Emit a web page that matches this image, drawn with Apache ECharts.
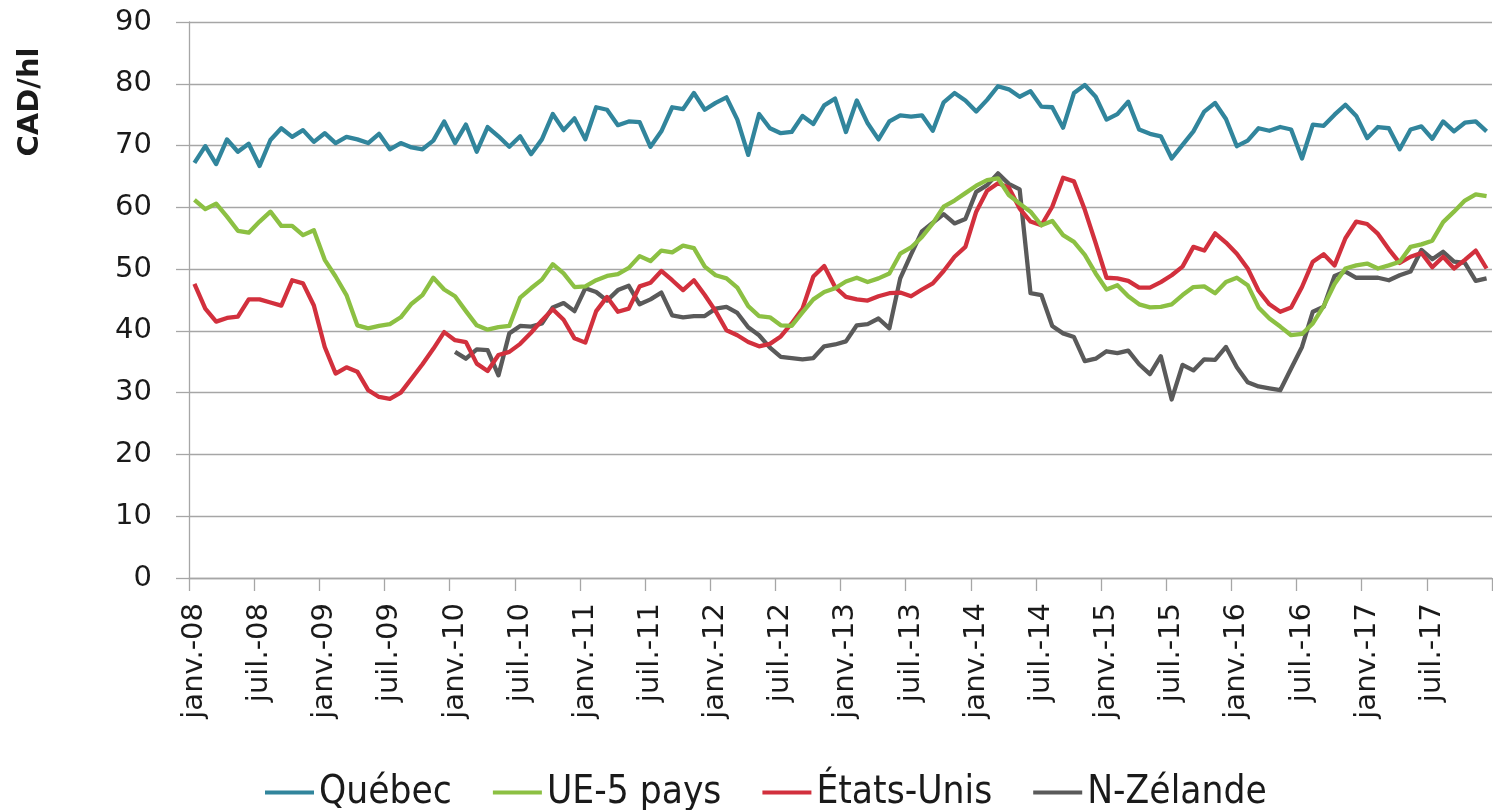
<!DOCTYPE html>
<html>
<head>
<meta charset="utf-8">
<script src="https://cdn.jsdelivr.net/npm/echarts@6/dist/echarts.min.js"></script>
<style>
  html, body { margin: 0; padding: 0; background: #ffffff; }
  #chart { width: 1493px; height: 810px; }
</style>
</head>
<body>
<div id="chart"></div>
<script>
// ---- Data ----
const monthNames = ['janv.', 'févr.', 'mars', 'avr.', 'mai', 'juin', 'juil.', 'août', 'sept.', 'oct.', 'nov.', 'déc.'];
const years = ['08', '09', '10', '11', '12', '13', '14', '15', '16', '17'];
const categories = [];
years.forEach(y => monthNames.forEach(m => categories.push(m + '-' + y)));

const seriesNames = ['Québec', 'UE-5 pays', 'États-Unis', 'N-Zélande'];

const quebec = [
  67.2, 69.9, 67.0, 71.0, 69.0, 70.3, 66.7, 70.9, 72.8, 71.4, 72.5, 70.6,
  72.0, 70.4, 71.4, 71.0, 70.4, 71.9, 69.4, 70.4, 69.7, 69.4, 70.8, 73.9,
  70.4, 73.4, 69.0, 73.0, 71.5, 69.8, 71.5, 68.6, 71.0, 75.1, 72.5, 74.4,
  71.0, 76.2, 75.8, 73.3, 73.9, 73.8, 69.8, 72.3, 76.2, 75.9, 78.5, 75.8,
  76.9, 77.8, 74.2, 68.5, 75.1, 72.8, 72.0, 72.2, 74.8, 73.5, 76.5, 77.6,
  72.2, 77.3, 73.6, 71.0, 73.9, 74.9, 74.7, 74.9, 72.4, 77.0, 78.5, 77.3,
  75.5, 77.4, 79.6, 79.1, 77.9, 78.8, 76.3, 76.2, 72.9, 78.5, 79.8, 77.9,
  74.2, 75.1, 77.1, 72.6, 71.9, 71.5, 67.9, 70.1, 72.3, 75.5, 76.9, 74.3,
  69.9, 70.8, 72.8, 72.4, 73.0, 72.6, 67.9, 73.4, 73.2, 75.0, 76.6, 74.8,
  71.2, 73.0, 72.8, 69.4, 72.6, 73.1, 71.1, 73.9, 72.3, 73.7, 73.9, 72.3
];

const ue5 = [
  61.2, 59.7, 60.6, 58.5, 56.2, 55.9, 57.7, 59.3, 57.0, 57.0, 55.5, 56.3,
  51.5, 48.8, 45.8, 40.9, 40.4, 40.8, 41.1, 42.2, 44.4, 45.8, 48.6, 46.7,
  45.6, 43.2, 40.9, 40.2, 40.6, 40.8, 45.4, 46.9, 48.3, 50.8, 49.3, 47.1,
  47.2, 48.2, 48.9, 49.2, 50.2, 52.1, 51.3, 53.0, 52.7, 53.8, 53.4, 50.4,
  49.0, 48.5, 47.0, 44.0, 42.4, 42.2, 40.9, 40.8, 43.0, 45.1, 46.3, 46.9,
  48.0, 48.6, 47.9, 48.5, 49.3, 52.5, 53.5, 55.2, 57.4, 60.1, 61.1, 62.3,
  63.5, 64.4, 64.7, 62.0, 60.6, 59.3, 57.1, 57.8, 55.5, 54.4, 52.3, 49.3,
  46.7, 47.4, 45.6, 44.3, 43.8, 43.9, 44.3, 45.8, 47.1, 47.2, 46.1, 47.9,
  48.6, 47.4, 43.8, 42.0, 40.7, 39.3, 39.5, 41.2, 44.0, 47.6, 50.1, 50.6,
  50.9, 50.1, 50.6, 51.2, 53.6, 54.0, 54.6, 57.6, 59.3, 61.1, 62.1, 61.8
];

const etatsUnis = [
  47.6, 43.6, 41.5, 42.1, 42.3, 45.1, 45.1, 44.6, 44.1, 48.2, 47.7, 44.1,
  37.4, 33.1, 34.1, 33.4, 30.4, 29.3, 29.0, 30.0, 32.3, 34.6, 37.1, 39.8,
  38.5, 38.2, 34.7, 33.5, 36.1, 36.6, 37.9, 39.7, 41.7, 43.5, 41.8, 38.8,
  38.1, 43.2, 45.5, 43.1, 43.6, 47.2, 47.8, 49.7, 48.2, 46.6, 48.2, 45.8,
  43.2, 40.1, 39.3, 38.2, 37.5, 37.9, 39.1, 41.2, 43.6, 48.8, 50.5, 47.1,
  45.5, 45.1, 44.9, 45.6, 46.1, 46.2, 45.6, 46.7, 47.7, 49.7, 52.0, 53.6,
  59.3, 62.7, 63.9, 63.2, 59.8, 57.7, 57.1, 60.1, 64.8, 64.2, 59.6, 54.2,
  48.6, 48.5, 48.1, 47.0, 47.0, 47.9, 49.0, 50.4, 53.6, 53.0, 55.8, 54.3,
  52.5, 50.1, 46.5, 44.3, 43.1, 43.8, 47.1, 51.2, 52.4, 50.6, 55.0, 57.7,
  57.3, 55.7, 53.2, 51.0, 52.0, 52.6, 50.3, 52.0, 50.1, 51.5, 53.0, 50.1
];

const nZelande = [
  null, null, null, null, null, null, null, null, null, null, null, null,
  null, null, null, null, null, null, null, null, null, null, null, null,
  36.6, 35.5, 37.0, 36.9, 32.8, 39.6, 40.8, 40.7, 41.2, 43.8, 44.5, 43.2,
  46.9, 46.3, 44.9, 46.6, 47.3, 44.3, 45.1, 46.2, 42.5, 42.2, 42.4, 42.4,
  43.6, 43.9, 42.9, 40.6, 39.3, 37.3, 35.8, 35.6, 35.4, 35.6, 37.5, 37.8,
  38.3, 40.9, 41.1, 42.0, 40.4, 48.5, 52.4, 56.1, 57.5, 58.9, 57.4, 58.1,
  62.5, 63.6, 65.5, 63.8, 62.9, 46.1, 45.8, 40.8, 39.6, 39.0, 35.1, 35.5,
  36.7, 36.4, 36.8, 34.6, 33.0, 35.9, 28.9, 34.5, 33.6, 35.4, 35.3, 37.4,
  34.1, 31.7, 31.0, 30.7, 30.4, 33.9, 37.4, 43.1, 43.9, 48.9, 49.6, 48.6,
  48.6, 48.6, 48.2, 49.0, 49.6, 53.1, 51.6, 52.8, 51.2, 51.0, 48.1, 48.5
];

const yTicks = { min: 0, max: 90, interval: 10 };
const yAxisTitle = 'CAD/hl';

// ---- Chart ----
const colors = ['#31859c', '#8cc043', '#d2303d', '#5a5a5a'];
const gridColor = '#a6a6a6';
const tickFont = "'DejaVu Sans', sans-serif";
const legendFont = "'DejaVu Sans Condensed', 'Liberation Sans Narrow', 'DejaVu Sans', sans-serif";

const chart = echarts.init(document.getElementById('chart'), null, { renderer: 'canvas' });

const dataSets = [quebec, ue5, etatsUnis, nZelande];

chart.setOption({
  animation: false,
  backgroundColor: '#ffffff',
  color: colors,
  grid: { left: 189, right: 1, top: 22, bottom: 232, containLabel: false },
  graphic: [{
    type: 'text',
    x: 30,
    y: 102,
    rotation: Math.PI / 2,
    style: {
      text: yAxisTitle,
      font: "bold 29px 'DejaVu Sans', sans-serif",
      fill: '#1a1a1a',
      textAlign: 'center',
      textVerticalAlign: 'middle'
    }
  }],
  legend: {
    data: seriesNames,
    left: 260,
    top: 768,
    itemGap: 41,
    itemWidth: 49,
    itemHeight: 4,
    icon: 'rect',
    textStyle: { fontFamily: legendFont, fontSize: 38.5, color: '#1a1a1a' }
  },
  xAxis: {
    type: 'category',
    data: categories,
    boundaryGap: true,
    axisLine: { show: true, lineStyle: { color: gridColor, width: 1.3 } },
    axisTick: { show: true, interval: 5, length: 13, lineStyle: { color: gridColor, width: 1.3 } },
    axisLabel: {
      interval: 5,
      rotate: 90,
      margin: 25,
      fontFamily: tickFont,
      fontSize: 29,
      color: '#1a1a1a'
    },
    splitLine: { show: false }
  },
  yAxis: {
    type: 'value',
    min: yTicks.min,
    max: yTicks.max,
    interval: yTicks.interval,
    axisLine: { show: true, lineStyle: { color: gridColor, width: 1.3 } },
    axisTick: { show: true, length: 13, lineStyle: { color: gridColor, width: 1.3 } },
    axisLabel: { margin: 37, fontFamily: tickFont, fontSize: 29, color: '#1a1a1a' },
    splitLine: { show: true, lineStyle: { color: gridColor, width: 1.3 } }
  },
  series: seriesNames.map((name, i) => ({
    name: name,
    type: 'line',
    data: dataSets[i],
    showSymbol: false,
    symbol: 'none',
    connectNulls: false,
    lineStyle: { width: 4.3, color: colors[i], join: 'round' },
    itemStyle: { color: colors[i] },
    z: 10 - i
  }))
});
</script>
</body>
</html>
